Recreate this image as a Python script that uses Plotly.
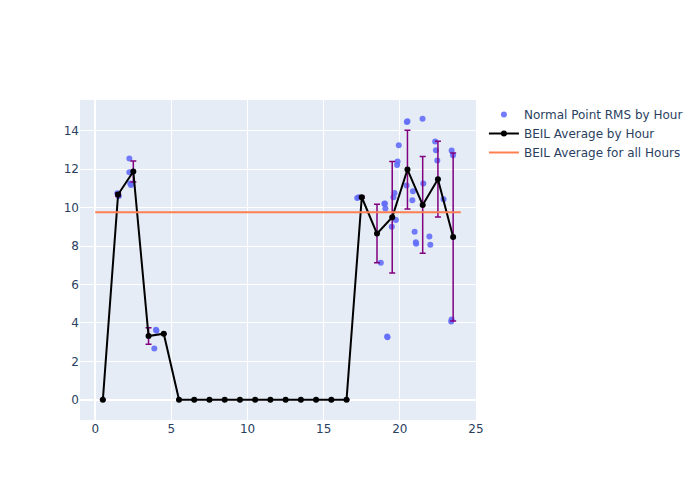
import plotly.graph_objects as go

# Normal point RMS by hour (scatter)
np_hours = [1.45, 1.55, 2.24, 2.24, 2.35, 2.3, 3.99, 4.02, 3.88,
            17.2, 17.3, 18.75, 18.98, 19.02, 19.05, 19.17, 19.19,
            19.58, 19.65, 19.74, 19.47, 19.82, 19.85, 19.93,
            20.46, 20.5, 21.49, 20.44, 20.86, 20.82, 20.97, 21.05, 21.07,
            21.54, 21.94, 22.0,
            22.32, 22.37, 22.46, 22.87,
            23.4, 23.49, 23.37, 23.4]
np_rms = [10.75, 10.6, 12.55, 11.84, 11.18, 11.25, 3.65, 3.6, 2.67,
          10.5, 10.54, 7.13, 10.2, 10.22, 9.95, 3.3, 3.25,
          10.54, 10.76, 9.36, 9.01, 12.22, 12.4, 13.25,
          14.45, 14.5, 14.62, 11.15, 10.85, 10.38, 8.75, 8.2, 8.12,
          11.25, 8.5, 8.07,
          13.44, 12.98, 12.45, 10.43,
          12.97, 12.72, 4.08, 4.18]

# Hourly averages
avg_hours = [0.5, 1.5, 2.5, 3.5, 4.5, 5.5, 6.5, 7.5, 8.5, 9.5, 10.5, 11.5,
             12.5, 13.5, 14.5, 15.5, 16.5, 17.5, 18.5, 19.5, 20.5, 21.5, 22.5, 23.5]
avg_vals = [0, 10.68, 11.88, 3.32, 3.44, 0, 0, 0, 0, 0, 0, 0,
            0, 0, 0, 0, 0, 10.54, 8.65, 9.5, 11.98, 10.14, 11.48, 8.47]
avg_err = [0, 0.1, 0.55, 0.43, 0, 0, 0, 0, 0, 0, 0, 0,
           0, 0, 0, 0, 0, 0.05, 1.52, 2.9, 2.05, 2.52, 1.97, 4.37]

overall_x = [0, 24]
overall_avg = 9.76

fig = go.Figure()
fig.add_trace(go.Scatter(
    x=np_hours, y=np_rms, mode="markers", name="Normal Point RMS by Hour",
    marker=dict(color="#636efa", size=6, opacity=0.9)))
fig.add_trace(go.Scatter(
    x=avg_hours, y=avg_vals, mode="lines+markers", name="BEIL Average by Hour",
    line=dict(color="black", width=2), marker=dict(color="black", size=6),
    error_y=dict(type="data", array=avg_err, visible=True, color="purple",
                 thickness=1.5, width=3)))
fig.add_trace(go.Scatter(
    x=overall_x, y=[overall_avg, overall_avg], mode="lines",
    name="BEIL Average for all Hours", line=dict(color="coral", width=2)))

fig.update_layout(
    width=700, height=500,
    font=dict(family="DejaVu Sans"),
    xaxis=dict(range=[-1, 25]),
    yaxis=dict(range=[-1.05, 15.6]),
)
fig.write_html("out.html")
